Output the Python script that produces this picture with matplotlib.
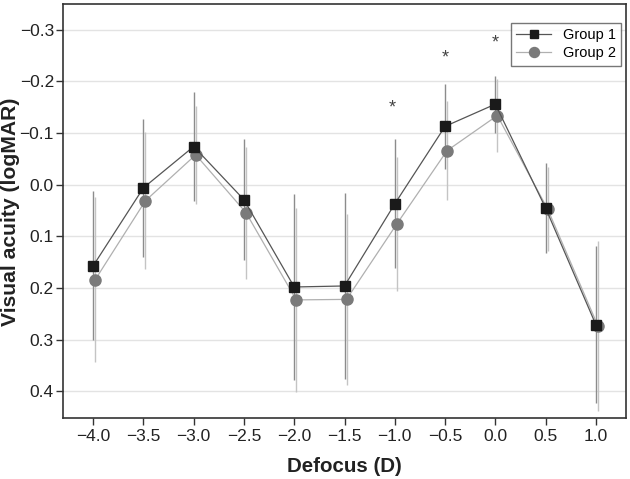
import matplotlib
matplotlib.use("Agg")
import matplotlib.pyplot as plt

plt.rcParams["font.family"] = ["Liberation Sans", "DejaVu Sans"]

# 데이터
defocus = [-4.0, -3.5, -3.0, -2.5, -2.0, -1.5, -1.0, -0.5, 0.0, 0.5, 1.0]
group1 = [0.157, 0.006, -0.074, 0.029, 0.198, 0.196, 0.037, -0.113, -0.156, 0.045, 0.271]
group1_err = [0.144, 0.133, 0.105, 0.117, 0.18, 0.18, 0.125, 0.083, 0.055, 0.087, 0.152]
group2 = [0.184, 0.031, -0.058, 0.054, 0.223, 0.222, 0.076, -0.066, -0.134, 0.047, 0.273]
group2_err = [0.16, 0.133, 0.095, 0.128, 0.178, 0.166, 0.129, 0.096, 0.071, 0.082, 0.165]
star_x = [-1.03, -0.5, 0.0]
star_y = [-0.149, -0.246, -0.275]
x_ticks = [-4.0, -3.5, -3.0, -2.5, -2.0, -1.5, -1.0, -0.5, 0.0, 0.5, 1.0]
y_ticks = [-0.3, -0.2, -0.1, 0.0, 0.1, 0.2, 0.3, 0.4]

shift = 0.02  # group 2 is drawn slightly to the right
defocus2 = [x + shift for x in defocus]

fig = plt.figure(figsize=(6.3, 4.79), dpi=100)
ax = fig.add_axes([0.1, 0.127, 0.8937, 0.8647])

ax.errorbar(defocus, group1, yerr=group1_err, fmt="none", ecolor="#8c8c8c",
            elinewidth=1.0, capsize=0, zorder=2)
ax.errorbar(defocus2, group2, yerr=group2_err, fmt="none", ecolor="#c4c4c4",
            elinewidth=1.0, capsize=0, zorder=2)

ax.plot(defocus, group1, color="#555555", linewidth=0.9, marker="s",
        markersize=7, markerfacecolor="#1a1a1a", markeredgecolor="#1a1a1a",
        label="Group 1", zorder=4)
ax.plot(defocus2, group2, color="#b0b0b0", linewidth=0.9, marker="o",
        markersize=8, markerfacecolor="#7a7a7a", markeredgecolor="#7a7a7a",
        label="Group 2", zorder=3)

for sx, sy in zip(star_x, star_y):
    ax.text(sx, sy, "*", ha="center", va="center", fontsize=13, color="#444444")

ax.set_xlim(-4.3, 1.3)
ax.set_ylim(0.452, -0.35)
ax.set_xticks(x_ticks)
ax.set_xticklabels([f"{t:.1f}".replace("-", "\u2212") for t in x_ticks])
ax.set_yticks(y_ticks)
ax.set_yticklabels([f"{t:.1f}".replace("-", "\u2212") for t in y_ticks])
ax.tick_params(axis="x", labelsize=12.5, length=5, width=1, color="#333333",
               labelcolor="#222222", direction="out", pad=3)
ax.tick_params(axis="y", labelsize=12.5, length=5, width=1, color="#333333",
               labelcolor="#222222", direction="out", pad=1.5)
ax.yaxis.grid(True, color="#e3e3e3", linewidth=1)
ax.set_axisbelow(True)
for s in ax.spines.values():
    s.set_color("#333333")
    s.set_linewidth(1.2)

ax.set_xlabel("Defocus (D)", fontsize=14.8, fontweight="bold", color="#222222", labelpad=9)
ax.set_ylabel("Visual acuity (logMAR)", fontsize=15.2, fontweight="bold", color="#222222")
ax.yaxis.set_label_coords(20 / 630, 1 - 212 / 479, transform=fig.transFigure)

leg = ax.legend(loc="upper right", fontsize=10.5, frameon=True, fancybox=False,
                edgecolor="#555555", borderpad=0.35, handlelength=2.4,
                labelspacing=0.3, borderaxespad=0, markerscale=0.9,
                bbox_to_anchor=(621 / 630, 1 - 23 / 479), bbox_transform=fig.transFigure)
leg.get_frame().set_linewidth(1.0)

fig.savefig("out.png", dpi=100)
